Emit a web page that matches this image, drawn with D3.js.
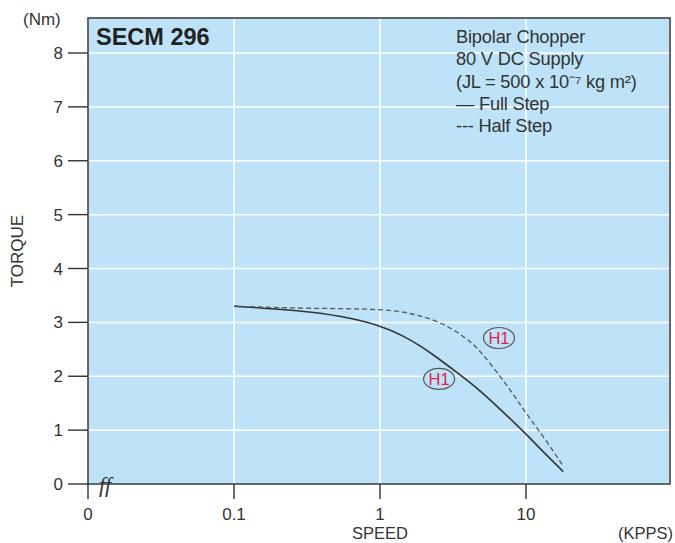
<!DOCTYPE html>
<html>
<head>
<meta charset="utf-8">
<script src="https://cdn.jsdelivr.net/npm/d3@7"></script>
<style>
  body { margin: 0; background: #fff; }
  text { font-family: "Liberation Sans", Arial, sans-serif; fill: #333; }
</style>
</head>
<body>
<svg id="svg"></svg>
<script>
/**
 * DATA
 * */
const fullStep = [
  [0.1, 3.30], [0.29, 3.22], [0.54, 3.12], [1.0, 2.95], [1.47, 2.74],
  [1.9, 2.56], [2.48, 2.34], [3.22, 2.11], [4.9, 1.73], [6.7, 1.38],
  [10, 0.93], [13.2, 0.59], [18, 0.23]
];
const halfStep = [
  [0.1, 3.30], [0.29, 3.26], [1.0, 3.25], [1.47, 3.19], [1.9, 3.12],
  [2.48, 3.02], [3.22, 2.86], [4.18, 2.64], [4.9, 2.46], [6.7, 1.99],
  [8.27, 1.65], [10, 1.31], [13.2, 0.88], [18.1, 0.32]
];
const xTicks = [0.01, 0.1, 1, 10];
const xTickLabels = ["0", "0.1", "1", "10"];
const yTicks = [0, 1, 2, 3, 4, 5, 6, 7, 8];
const legendLines = [
  "Bipolar Chopper",
  "80 V DC Supply",
  "(JL = 500 x 10\u207B\u2077 kg m\u00B2)",
  "\u2014 Full Step",
  "--- Half Step"
];
// curve labels: [speed, torque]
const curveLabels = [[2.54, 1.95], [6.53, 2.71]];

/**
 * CONSTANTS
 * */
const width = 675, height = 543;
const plot = { left: 88, top: 18, right: 670, bottom: 484 };

const svg = d3.select("#svg").attr("width", width).attr("height", height);

const xScale = d3.scaleLog().domain([0.01, 100]).range([88, 672]);
const yScale = d3.scaleLinear().domain([0, 8]).range([484, 53]);

// background
svg.append("rect")
  .attr("x", plot.left).attr("y", plot.top)
  .attr("width", plot.right - plot.left).attr("height", plot.bottom - plot.top)
  .attr("fill", "#bee3f8");

// grid
svg.append("g")
  .selectAll("line.v")
  .data(xTicks.slice(1))
  .join("line")
  .attr("x1", d => xScale(d)).attr("x2", d => xScale(d))
  .attr("y1", plot.top).attr("y2", plot.bottom)
  .attr("stroke", "#fff").attr("stroke-width", 1.5);

svg.append("g")
  .selectAll("line.h")
  .data(yTicks.slice(1))
  .join("line")
  .attr("x1", plot.left).attr("x2", plot.right)
  .attr("y1", d => yScale(d)).attr("y2", d => yScale(d))
  .attr("stroke", "#fff").attr("stroke-width", 1.5);

// frame
svg.append("rect")
  .attr("x", plot.left).attr("y", plot.top)
  .attr("width", plot.right - plot.left).attr("height", plot.bottom - plot.top)
  .attr("fill", "none").attr("stroke", "#444").attr("stroke-width", 1.6);

// y axis ticks
const yAxis = svg.append("g");
yAxis.selectAll("line")
  .data(yTicks)
  .join("line")
  .attr("x1", 68).attr("x2", plot.left)
  .attr("y1", d => yScale(d)).attr("y2", d => yScale(d))
  .attr("stroke", "#333").attr("stroke-width", 1.4);
yAxis.selectAll("text")
  .data(yTicks)
  .join("text")
  .attr("x", 63).attr("y", d => yScale(d) + 6)
  .attr("text-anchor", "end")
  .attr("font-size", 17)
  .text(d => d);

// x axis ticks
const xAxis = svg.append("g");
xAxis.selectAll("line")
  .data(xTicks)
  .join("line")
  .attr("x1", d => xScale(d)).attr("x2", d => xScale(d))
  .attr("y1", plot.bottom).attr("y2", plot.bottom + 15)
  .attr("stroke", "#333").attr("stroke-width", 1.4);
xAxis.selectAll("text")
  .data(xTicks)
  .join("text")
  .attr("x", d => xScale(d)).attr("y", 520)
  .attr("text-anchor", "middle")
  .attr("font-size", 17)
  .text((d, i) => xTickLabels[i]);

// axis break mark
svg.append("text")
  .attr("x", 99).attr("y", 492)
  .style("font-family", "'Liberation Serif', serif")
  .attr("font-style", "italic")
  .attr("font-size", 22)
  .text("ff");

// axis titles
svg.append("text")
  .attr("x", 23).attr("y", 25)
  .attr("font-size", 17)
  .text("(Nm)");
svg.append("text")
  .attr("transform", "translate(23,251) rotate(-90)")
  .attr("text-anchor", "middle")
  .attr("font-size", 17)
  .text("TORQUE");
svg.append("text")
  .attr("x", 380).attr("y", 539)
  .attr("text-anchor", "middle")
  .attr("font-size", 16.5)
  .text("SPEED");
svg.append("text")
  .attr("x", 673).attr("y", 539)
  .attr("text-anchor", "end")
  .attr("font-size", 16.5)
  .text("(KPPS)");

// title
svg.append("text")
  .attr("x", 96).attr("y", 45)
  .attr("font-size", 23.5)
  .attr("font-weight", "bold")
  .style("fill", "#222")
  .text("SECM 296");

// legend
svg.append("g")
  .selectAll("text")
  .data(legendLines)
  .join("text")
  .attr("x", 456)
  .attr("y", (d, i) => 43 + i * 22.3)
  .attr("font-size", 18.3)
  .attr("letter-spacing", -0.2)
  .text(d => d);

// curves
const line = d3.line()
  .x(d => xScale(d[0]))
  .y(d => yScale(d[1]))
  .curve(d3.curveBasis);

svg.append("path")
  .datum(fullStep)
  .attr("d", line)
  .attr("fill", "none")
  .attr("stroke", "#333")
  .attr("stroke-width", 1.6);

svg.append("path")
  .datum(halfStep)
  .attr("d", line)
  .attr("fill", "none")
  .attr("stroke", "#555")
  .attr("stroke-width", 1.3)
  .attr("stroke-dasharray", "5,3");

// H1 labels
const lbl = svg.append("g")
  .selectAll("g")
  .data(curveLabels)
  .join("g")
  .attr("transform", d => `translate(${xScale(d[0])},${yScale(d[1])})`);
lbl.append("ellipse")
  .attr("rx", 15.5).attr("ry", 10.5)
  .attr("fill", "#bee3f8")
  .attr("stroke", "#555").attr("stroke-width", 1.2);
lbl.append("text")
  .attr("y", 6)
  .attr("text-anchor", "middle")
  .attr("font-size", 16.5)
  .style("fill", "#e2204f")
  .text("H1");
</script>
</body>
</html>
